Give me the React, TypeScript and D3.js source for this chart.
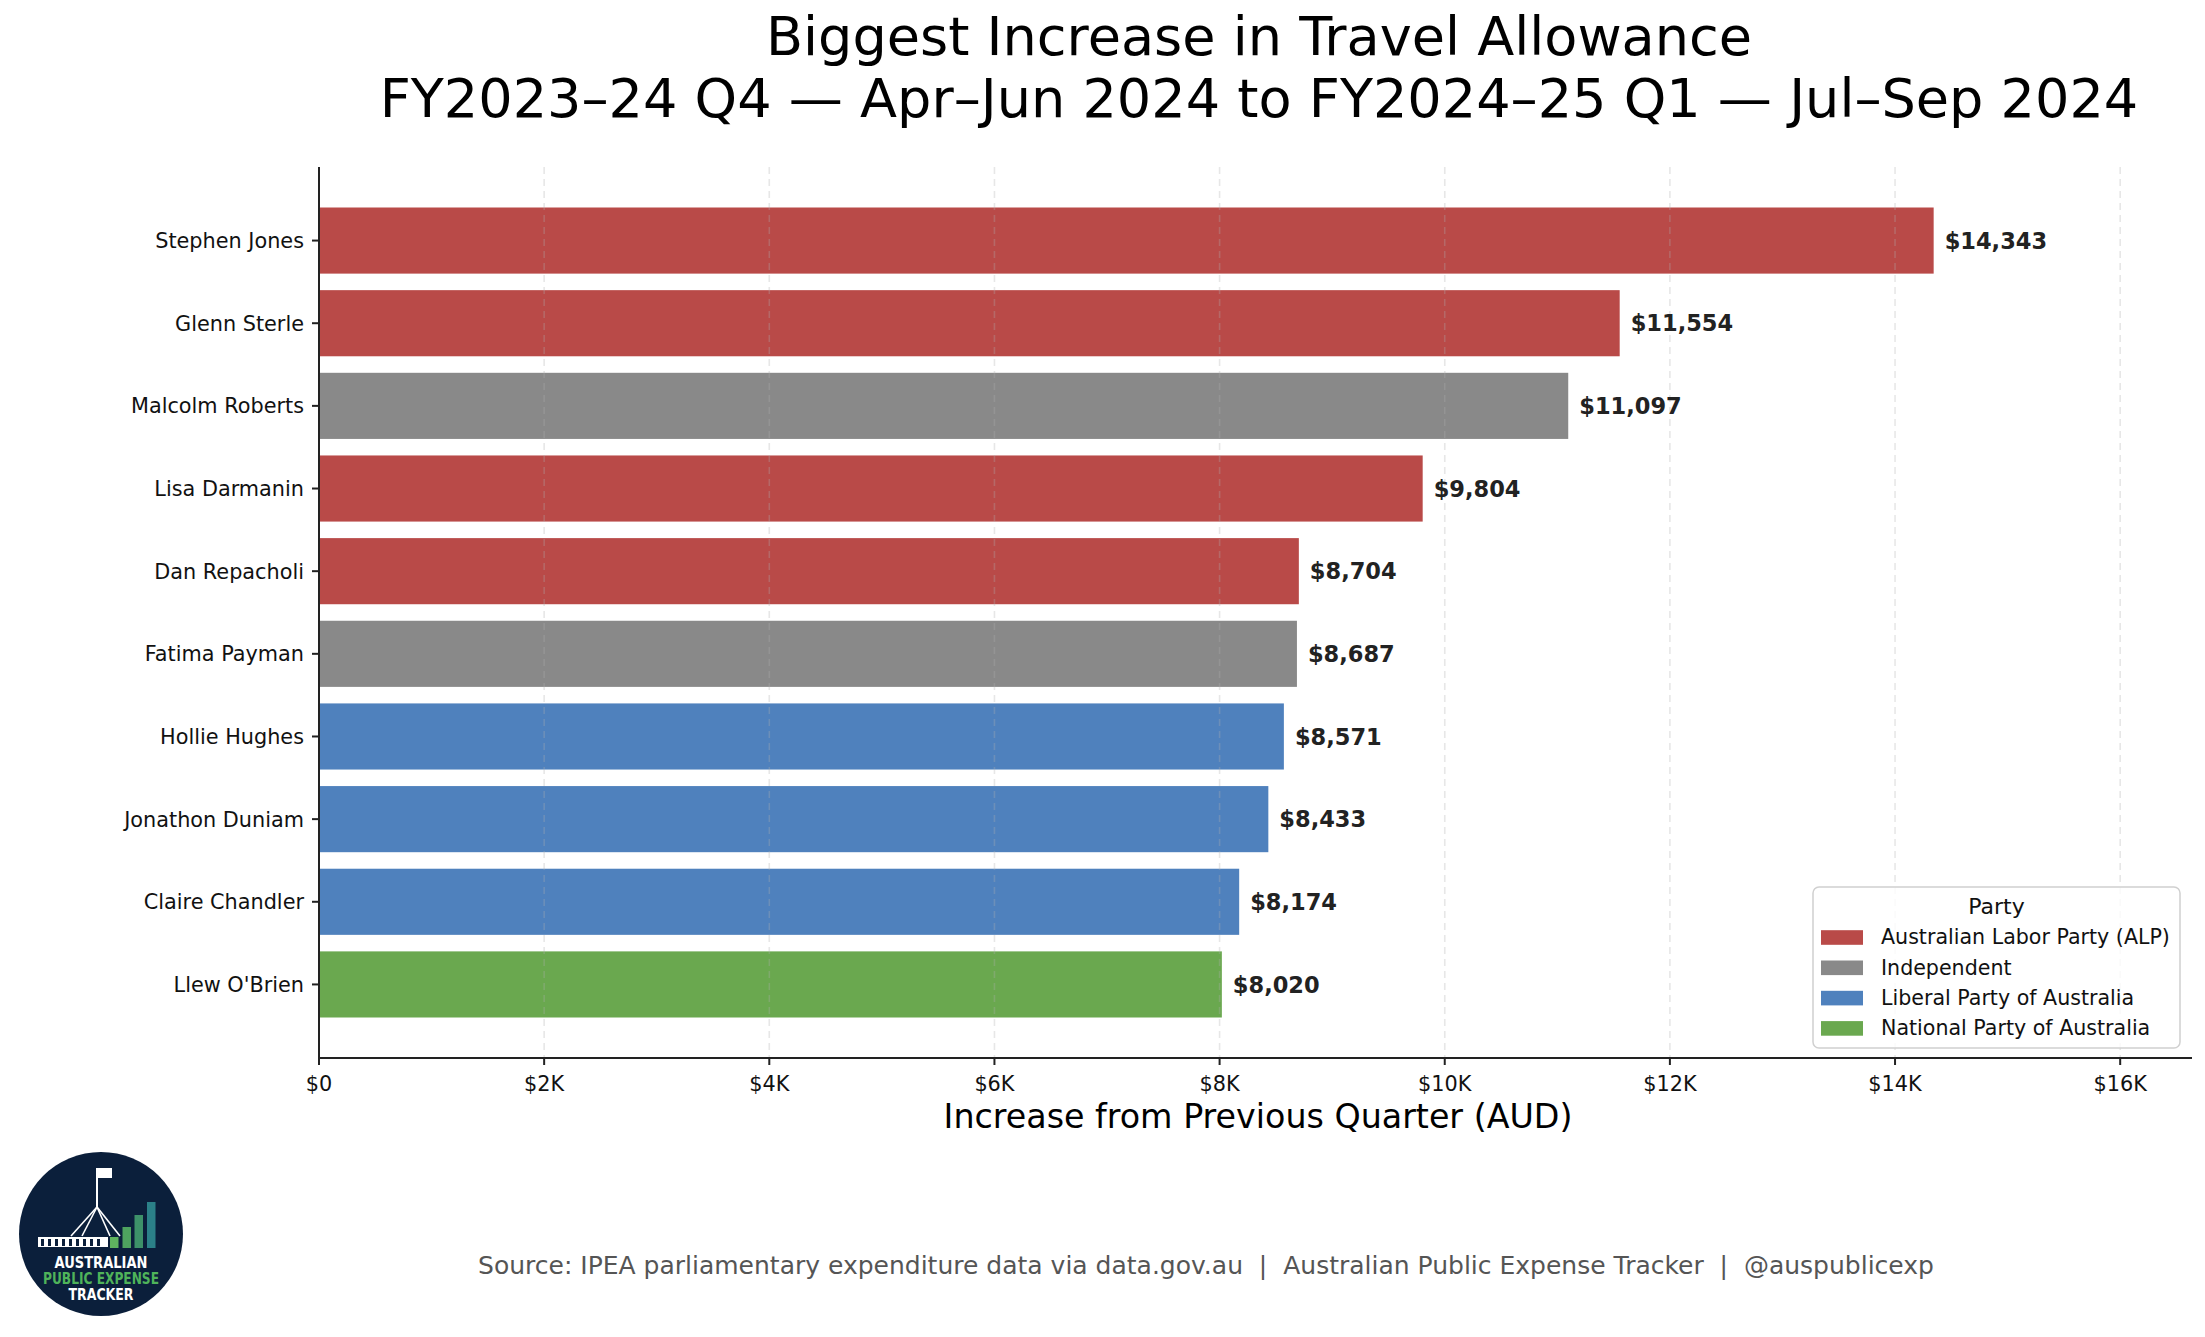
import React from "react";
import * as d3 from "d3";

const names = [
  "Stephen Jones",
  "Glenn Sterle",
  "Malcolm Roberts",
  "Lisa Darmanin",
  "Dan Repacholi",
  "Fatima Payman",
  "Hollie Hughes",
  "Jonathon Duniam",
  "Claire Chandler",
  "Llew O'Brien",
];
const values = [14343, 11554, 11097, 9804, 8704, 8687, 8571, 8433, 8174, 8020];
const parties = ["ALP", "ALP", "IND", "ALP", "ALP", "IND", "LIB", "LIB", "LIB", "NAT"];

const partyKeys = ["ALP", "IND", "LIB", "NAT"];
const partyLabels = [
  "Australian Labor Party (ALP)",
  "Independent",
  "Liberal Party of Australia",
  "National Party of Australia",
];
const partyColors = ["#b94a48", "#898989", "#4f81bd", "#6aa84f"];

const xTicks = [0, 2000, 4000, 6000, 8000, 10000, 12000, 14000, 16000];

const W = 2205;
const H = 1337;
const FONT = "DejaVu Sans, Liberation Sans, sans-serif";

function Logo({ cx, cy, r }: { cx: number; cy: number; r: number }) {
  // decorative badge, drawn roughly
  const legs = [-26, -15, 13, 23];
  const bars = [
    { x: 110, top: 1237, c: "#5fb35f" },
    { x: 122.5, top: 1227, c: "#4ea35f" },
    { x: 134.5, top: 1215, c: "#3d9169" },
    { x: 147, top: 1202, c: "#2b8088" },
  ];
  return (
    <g>
      <circle cx={cx} cy={cy} r={r} fill="#0b1f3b" />
      <line x1={97} y1={1168} x2={97} y2={1208} stroke="#fff" strokeWidth={2} />
      <rect x={98} y={1168} width={14} height={10} fill="#fff" />
      {legs.map((d, i) => (
        <line key={i} x1={97} y1={1207} x2={97 + d} y2={1236} stroke="#fff" strokeWidth={1.6} />
      ))}
      <rect x={38} y={1237} width={70} height={10} fill="#fff" />
      {d3.range(9).map((i) => (
        <rect key={i} x={41 + i * 7} y={1239} width={3} height={7} fill="#0b1f3b" />
      ))}
      {bars.map((b, i) => (
        <rect key={i} x={b.x} y={b.top} width={8.5} height={1248 - b.top} fill={b.c} />
      ))}
      <text x={cx} y={1268} textAnchor="middle" fill="#fff" fontFamily={FONT} fontWeight="bold"
        fontSize={15} textLength={93} lengthAdjust="spacingAndGlyphs">AUSTRALIAN</text>
      <text x={cx} y={1284} textAnchor="middle" fill="#4fb35a" fontFamily={FONT} fontWeight="bold"
        fontSize={15} textLength={116} lengthAdjust="spacingAndGlyphs">PUBLIC EXPENSE</text>
      <text x={cx} y={1300} textAnchor="middle" fill="#fff" fontFamily={FONT} fontWeight="bold"
        fontSize={15} textLength={65} lengthAdjust="spacingAndGlyphs">TRACKER</text>
    </g>
  );
}

export default function App() {
  const margin = { left: 319, right: 2192, top: 167, bottom: 1058 };

  const x = d3.scaleLinear().domain([0, d3.max(values)! * 1.16]).range([margin.left, margin.right]);
  const y = d3
    .scaleBand<string>()
    .domain(names)
    .range([margin.top, margin.bottom])
    .paddingInner(0.2)
    .paddingOuter(0.49);

  const color = d3.scaleOrdinal<string, string>().domain(partyKeys).range(partyColors);
  const fmtVal = d3.format(",");
  const fmtTick = (v: number) => (v === 0 ? "$0" : `$${v / 1000}K`);

  const legX = 1813;
  const legY = 887;

  return (
    <svg width={W} height={H} style={{ position: "absolute", left: 0, top: 0, background: "#fff" }}>
      <rect width={W} height={H} fill="#fff" />

      {/* title */}
      <text x={1259} y={55} textAnchor="middle" fontFamily={FONT} fontSize={54.1} fill="#000">
        Biggest Increase in Travel Allowance
      </text>
      <text x={1259} y={117} textAnchor="middle" fontFamily={FONT} fontSize={54.1} fill="#000">
        FY2023–24 Q4 — Apr–Jun 2024 to FY2024–25 Q1 — Jul–Sep 2024
      </text>

      {/* bars */}
      {names.map((n, i) => (
        <rect
          key={n}
          x={x(0)}
          y={y(n)!}
          width={x(values[i]) - x(0)}
          height={y.bandwidth()}
          fill={color(parties[i])}
        />
      ))}

      {/* grid */}
      {xTicks.map((t) => (
        <line
          key={t}
          x1={x(t)}
          x2={x(t)}
          y1={margin.top}
          y2={margin.bottom}
          stroke="#b0b0b0"
          strokeOpacity={0.3}
          strokeWidth={1.6}
          strokeDasharray="7,5"
        />
      ))}

      {/* value labels */}
      {names.map((n, i) => (
        <text
          key={n}
          x={x(values[i]) + 11}
          y={y(n)! + y.bandwidth() / 2}
          dy="0.36em"
          fontFamily={FONT}
          fontWeight="bold"
          fontSize={22.5}
          fill="#222"
        >
          ${fmtVal(values[i])}
        </text>
      ))}

      {/* y axis */}
      <line x1={margin.left} x2={margin.left} y1={margin.top} y2={margin.bottom + 1} stroke="#222" strokeWidth={2} />
      {names.map((n) => {
        const cy = y(n)! + y.bandwidth() / 2;
        return (
          <g key={n}>
            <line x1={margin.left - 7} x2={margin.left} y1={cy} y2={cy} stroke="#222" strokeWidth={2} />
            <text x={margin.left - 15} y={cy} dy="0.36em" textAnchor="end" fontFamily={FONT} fontSize={20.8} fill="#111">
              {n}
            </text>
          </g>
        );
      })}

      {/* x axis */}
      <line x1={margin.left - 1} x2={margin.right} y1={margin.bottom} y2={margin.bottom} stroke="#222" strokeWidth={2} />
      {xTicks.map((t) => (
        <g key={t}>
          <line x1={x(t)} x2={x(t)} y1={margin.bottom} y2={margin.bottom + 7} stroke="#222" strokeWidth={2} />
          <text x={x(t)} y={1091} textAnchor="middle" fontFamily={FONT} fontSize={20.8} fill="#111">
            {fmtTick(t)}
          </text>
        </g>
      ))}
      <text x={1258} y={1128} textAnchor="middle" fontFamily={FONT} fontSize={33.3} fill="#000">
        Increase from Previous Quarter (AUD)
      </text>

      {/* legend */}
      <rect x={legX} y={legY} width={367} height={161} rx={6} fill="#fff" fillOpacity={0.8} stroke="#d0d0d0" strokeWidth={1.5} />
      <text x={legX + 183.5} y={914} textAnchor="middle" fontFamily={FONT} fontSize={22} fill="#111">
        Party
      </text>
      {partyKeys.map((k, i) => {
        const cy = 937.5 + i * 30.3;
        return (
          <g key={k}>
            <rect x={1821} y={cy - 7.3} width={42} height={14.6} fill={partyColors[i]} />
            <text x={1881} y={cy + 6.8} fontFamily={FONT} fontSize={20.6} fill="#111">
              {partyLabels[i]}
            </text>
          </g>
        );
      })}

      {/* footer */}
      <text x={1206} y={1274} textAnchor="middle" fontFamily={FONT} fontSize={25} fill="#555" style={{ whiteSpace: "pre" }}>
        {"Source: IPEA parliamentary expenditure data via data.gov.au  |  Australian Public Expense Tracker  |  @auspublicexp"}
      </text>

      <Logo cx={101} cy={1234} r={82} />
    </svg>
  );
}
